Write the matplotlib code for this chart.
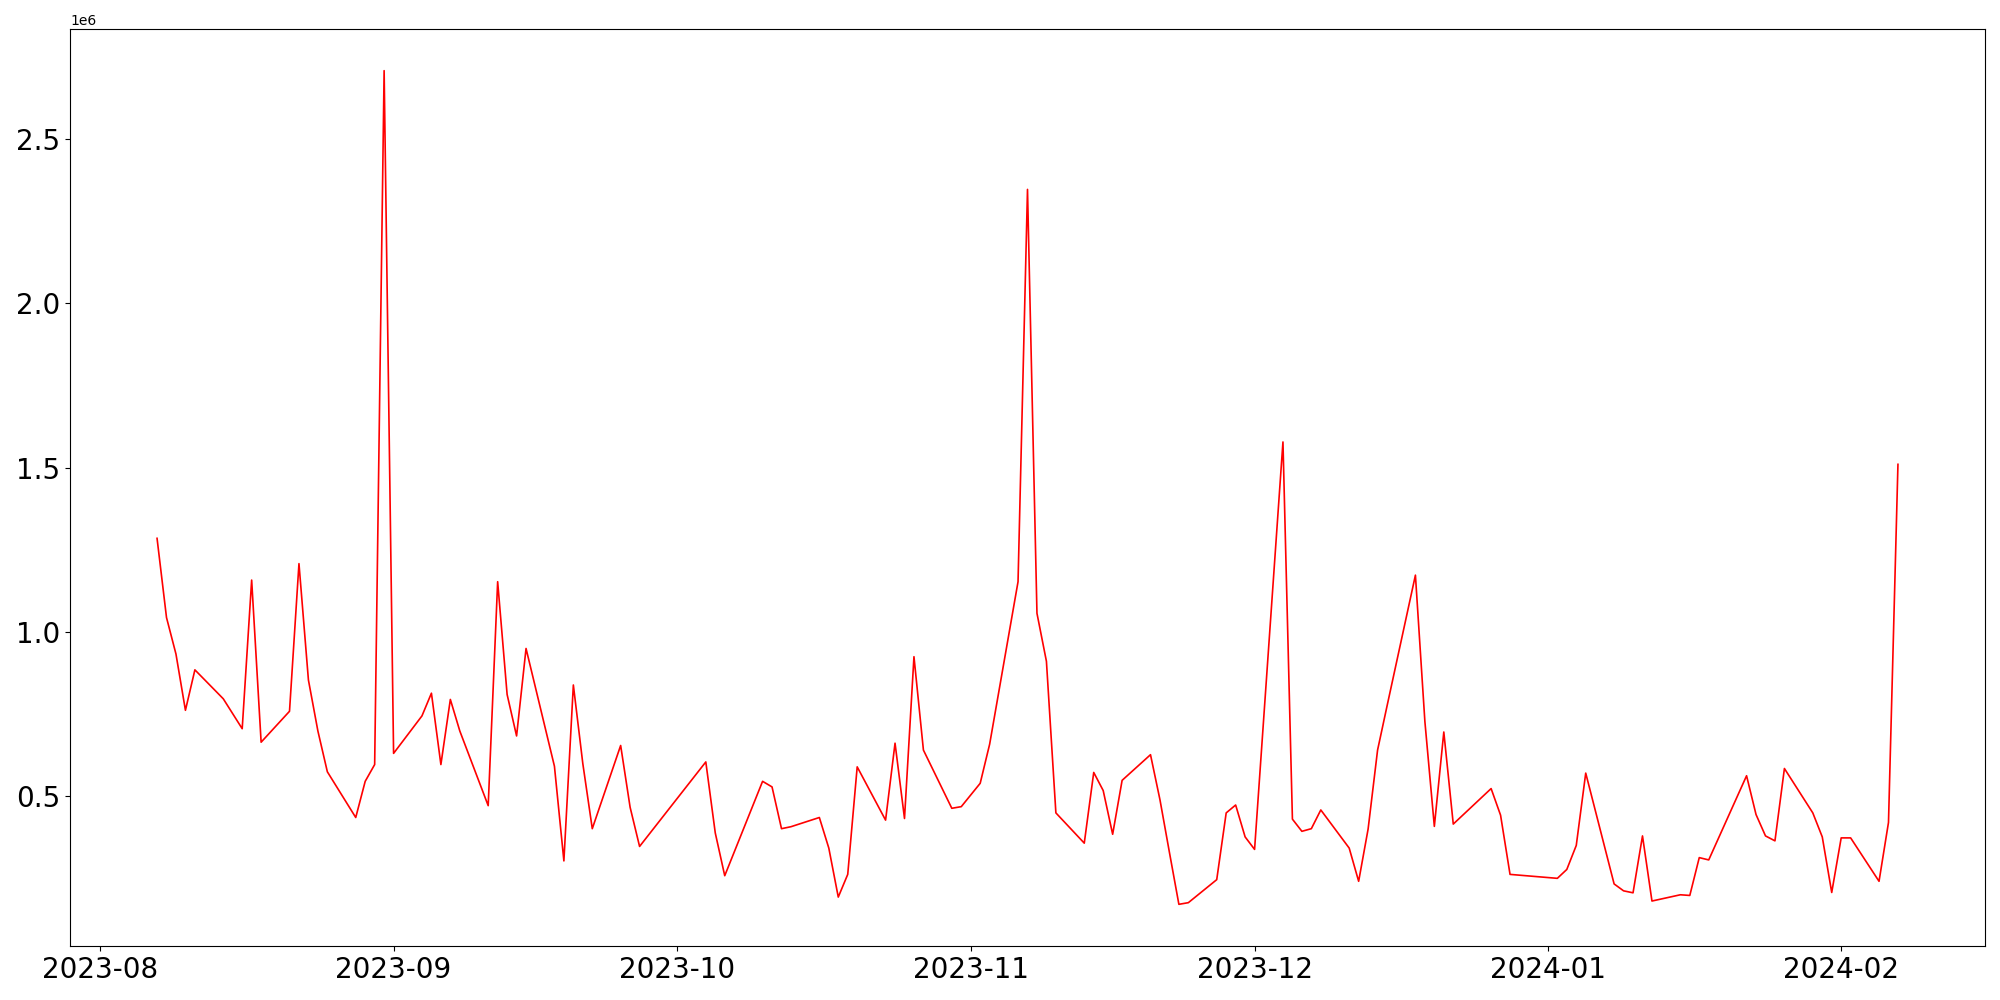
import pandas as pd
import matplotlib
matplotlib.use('Agg')
import matplotlib.pyplot as plt


# daily values (weekdays only, a few gaps)
dates = [
    '2023-08-07', '2023-08-08', '2023-08-09', '2023-08-10', '2023-08-11',
    '2023-08-14', '2023-08-16', '2023-08-17', '2023-08-18',
    '2023-08-21', '2023-08-22', '2023-08-23', '2023-08-24', '2023-08-25',
    '2023-08-28', '2023-08-29', '2023-08-30', '2023-08-31', '2023-09-01',
    '2023-09-04', '2023-09-05', '2023-09-06', '2023-09-07', '2023-09-08',
    '2023-09-11', '2023-09-12', '2023-09-13', '2023-09-14', '2023-09-15',
    '2023-09-18', '2023-09-19', '2023-09-20', '2023-09-21', '2023-09-22',
    '2023-09-25', '2023-09-26', '2023-09-27',
    '2023-10-04', '2023-10-05', '2023-10-06',
    '2023-10-10', '2023-10-11', '2023-10-12', '2023-10-13',
    '2023-10-16', '2023-10-17', '2023-10-18', '2023-10-19', '2023-10-20',
    '2023-10-23', '2023-10-24', '2023-10-25', '2023-10-26', '2023-10-27',
    '2023-10-30', '2023-10-31', '2023-11-02', '2023-11-03',
    '2023-11-06', '2023-11-07', '2023-11-08', '2023-11-09', '2023-11-10',
    '2023-11-13', '2023-11-14', '2023-11-15', '2023-11-16', '2023-11-17',
    '2023-11-20', '2023-11-21', '2023-11-22', '2023-11-23', '2023-11-24',
    '2023-11-27', '2023-11-28', '2023-11-29', '2023-11-30', '2023-12-01',
    '2023-12-04', '2023-12-05', '2023-12-06', '2023-12-07', '2023-12-08',
    '2023-12-11', '2023-12-12', '2023-12-13', '2023-12-14', '2023-12-15',
    '2023-12-18', '2023-12-19', '2023-12-20', '2023-12-21', '2023-12-22',
    '2023-12-26', '2023-12-27', '2023-12-28',
    '2024-01-02', '2024-01-03', '2024-01-04', '2024-01-05',
    '2024-01-08', '2024-01-09', '2024-01-10', '2024-01-11', '2024-01-12',
    '2024-01-15', '2024-01-16', '2024-01-17', '2024-01-18',
    '2024-01-22', '2024-01-23', '2024-01-24', '2024-01-25', '2024-01-26',
    '2024-01-29', '2024-01-30', '2024-01-31', '2024-02-01', '2024-02-02',
    '2024-02-05', '2024-02-06', '2024-02-07',
]

values = [
    1.285, 1.044, 0.933, 0.762, 0.885,
    0.797, 0.706, 1.158, 0.665,
    0.759, 1.208, 0.854, 0.699, 0.575,
    0.436, 0.546, 0.597, 2.707, 0.631,
    0.745, 0.814, 0.597, 0.795, 0.699,
    0.472, 1.153, 0.810, 0.684, 0.950,
    0.592, 0.304, 0.839, 0.600, 0.402,
    0.655, 0.467, 0.348,
    0.605, 0.389, 0.259,
    0.546, 0.529, 0.402, 0.408,
    0.436, 0.343, 0.194, 0.263, 0.590,
    0.428, 0.662, 0.433, 0.925, 0.641,
    0.464, 0.469, 0.540, 0.659,
    1.153, 2.346, 1.057, 0.911, 0.450,
    0.358, 0.573, 0.518, 0.385, 0.549,
    0.627, 0.490, 0.330, 0.172, 0.177,
    0.247, 0.450, 0.474, 0.377, 0.339,
    1.578, 0.431, 0.394, 0.402, 0.459,
    0.343, 0.242, 0.401, 0.641, 0.775,
    1.173, 0.728, 0.409, 0.696, 0.416,
    0.524, 0.443, 0.263,
    0.251, 0.278, 0.351, 0.571,
    0.234, 0.213, 0.207, 0.380, 0.182,
    0.201, 0.199, 0.314, 0.307,
    0.563, 0.445, 0.380, 0.365, 0.585,
    0.450, 0.377, 0.208, 0.374, 0.374,
    0.242, 0.421, 1.510,
]

x = pd.to_datetime(dates)
y = [v * 1e6 for v in values]

fig, ax = plt.subplots(figsize=(20, 10), dpi=100)
ax.plot(x, y, color='red', lw=1.2)
ax.tick_params(axis='both', labelsize=20)
fig.subplots_adjust(left=0.035, right=0.9925, top=0.971, bottom=0.054)
fig.savefig('out.png')
